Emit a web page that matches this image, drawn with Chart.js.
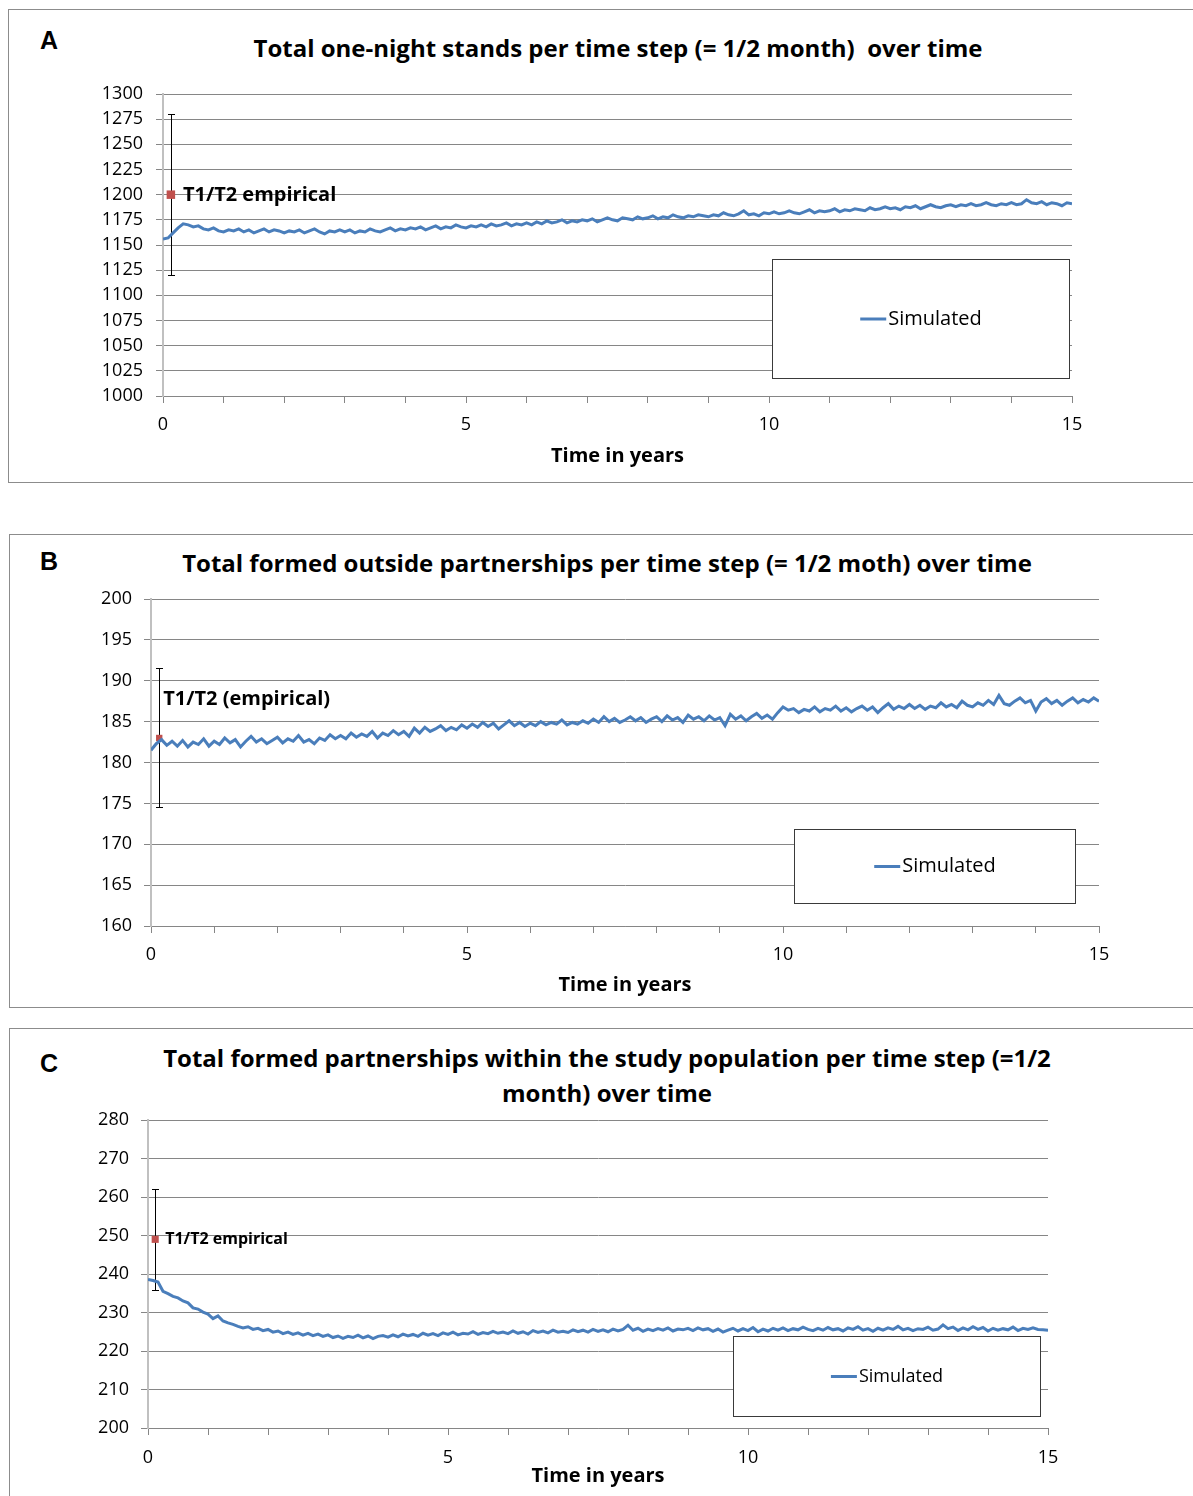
<!DOCTYPE html>
<html>
<head>
  <title>Simulated vs empirical partnerships</title>
  <script src="https://cdn.jsdelivr.net/npm/chart.js"></script>
  <style>
    body { margin: 0; width: 1193px; height: 1496px; overflow: hidden; background: #fff; font-family: "Open Sans", sans-serif; }
    .panel { position: absolute; border: 1px solid #8c8c8c; box-sizing: border-box; }
    .title { position: absolute; transform: translate(-50%, -50%); font: bold 24px "Open Sans", sans-serif; white-space: pre; text-align: center; color: #000; }
    .letter { position: absolute; transform: translate(-50%, -50%); font: bold 25px "Liberation Sans", Arial, sans-serif; }
    canvas { position: absolute; left: 0; }
  </style>
</head>
<body>
  <div class="panel" style="left:8px; top:9px; width:1210px; height:474px"></div>
  <div class="panel" style="left:9px; top:534px; width:1210px; height:474px"></div>
  <div class="panel" style="left:9px; top:1028px; width:1210px; height:500px"></div>

  <div class="letter" style="left:49px; top:40px">A</div>
  <div class="letter" style="left:49px; top:561px">B</div>
  <div class="letter" style="left:49px; top:1063px">C</div>

  <div class="title" style="left:618px; top:47px">Total one-night stands per time step (= 1/2 month)  over time</div>
  <div class="title" style="left:607px; top:562px">Total formed outside partnerships per time step (= 1/2 moth) over time</div>
  <div class="title" style="left:607px; top:1075px; line-height:35px">Total formed partnerships within the study population per time step (=1/2<br>month) over time</div>

  <canvas id="chartA" width="1193" height="490" style="top:0px"></canvas>
  <canvas id="chartB" width="1193" height="510" style="top:500px"></canvas>
  <canvas id="chartC" width="1193" height="486" style="top:1010px"></canvas>

  <script>
    // one value every 1/12 year (2 time steps); one row per year
    const stepYears = 1 / 12;
    const xTickLabels = [0, 5, 10, 15];

    const oneNightStands = [
      1156, 1157, 1162, 1167, 1171, 1170, 1168, 1169, 1166, 1165, 1167, 1164,
      1163, 1165, 1164, 1166, 1163, 1165, 1162, 1164, 1166, 1163, 1165, 1164,
      1162, 1164, 1163, 1165, 1162, 1164, 1166, 1163, 1161, 1164, 1163, 1165,
      1163, 1165, 1162, 1164, 1163, 1166, 1164, 1163, 1165, 1167, 1164, 1166,
      1165, 1167, 1166, 1168, 1165, 1167, 1169, 1166, 1168, 1167, 1170, 1168,
      1167, 1169, 1168, 1170, 1168, 1171, 1169, 1170, 1172, 1169, 1171, 1170,
      1172, 1170, 1173, 1171, 1174, 1172, 1173, 1175, 1172, 1174, 1173, 1175,
      1174, 1176, 1173, 1175, 1177, 1175, 1174, 1177, 1176, 1175, 1178, 1176,
      1177, 1179, 1176, 1178, 1177, 1180, 1178, 1177, 1179, 1178, 1180, 1179,
      1178, 1180, 1179, 1182, 1180, 1179, 1181, 1184, 1180, 1181, 1179, 1182,
      1181, 1183, 1181, 1182, 1184, 1182, 1181, 1183, 1185, 1182, 1184, 1183,
      1184, 1186, 1183, 1185, 1184, 1186, 1185, 1184, 1187, 1185, 1186, 1188,
      1186, 1187, 1185, 1188, 1187, 1189, 1186, 1188, 1190, 1188, 1187, 1189,
      1190, 1188, 1190, 1189, 1191, 1189, 1190, 1192, 1190, 1189, 1191, 1190,
      1192, 1190, 1191, 1195, 1192, 1191, 1193, 1190, 1192, 1191, 1189, 1192,
      1191
    ];
    const outsidePartnerships = [
      181.5, 182.3, 182.8, 182.1, 182.6, 182.0, 182.7, 181.9, 182.5, 182.2, 182.9, 182.0,
      182.6, 182.2, 183.0, 182.4, 182.8, 181.9, 182.6, 183.2, 182.5, 182.9, 182.3, 182.7,
      183.1, 182.4, 182.9, 182.6, 183.3, 182.5, 182.8, 182.3, 183.0, 182.7, 183.4, 182.9,
      183.3, 182.9, 183.6, 183.1, 183.5, 183.2, 183.8, 183.0, 183.6, 183.3, 183.9, 183.4,
      183.8, 183.2, 184.2, 183.6, 184.3, 183.8, 184.1, 184.5, 183.9, 184.3, 184.0, 184.6,
      184.2, 184.7, 184.3, 184.9, 184.4, 184.8, 184.1, 184.6, 185.1, 184.5, 184.9, 184.4,
      184.8, 184.5, 185.0, 184.6, 184.9, 184.7, 185.2, 184.6, 184.9, 184.7, 185.1, 184.8,
      185.3, 184.9, 185.6, 185.0, 185.4, 184.9, 185.2, 185.6, 185.1, 185.5, 184.9, 185.3,
      185.6, 185.0, 185.7, 185.2, 185.5, 184.9, 185.8, 185.3, 185.6, 185.1, 185.7, 185.2,
      185.5, 184.5, 185.9, 185.3, 185.7, 185.1, 185.6, 186.0, 185.4, 185.8, 185.3, 186.1,
      186.8, 186.4, 186.6, 186.1, 186.5, 186.3, 186.8, 186.2, 186.6, 186.4, 186.9, 186.3,
      186.7, 186.2, 186.6, 186.9, 186.4, 186.8, 186.1, 186.7, 187.2, 186.5, 186.9, 186.6,
      187.1, 186.6, 187.0, 186.5, 186.9, 186.7, 187.3, 186.8, 187.1, 186.7, 187.5, 187.0,
      186.8, 187.3, 187.0, 187.6, 187.1, 188.2, 187.2, 187.0, 187.5, 187.9, 187.3, 187.6,
      186.3, 187.4, 187.8, 187.2, 187.6, 187.0, 187.5, 187.9, 187.3, 187.7, 187.4, 187.9,
      187.5
    ];
    const studyPartnerships = [
      238.6, 238.3, 237.9, 235.5, 234.9, 234.2, 233.8, 233.0, 232.5, 231.2, 230.9, 230.1,
      229.6, 228.4, 229.1, 227.8, 227.3, 226.9, 226.4, 226.0, 226.3, 225.6, 225.9, 225.3,
      225.6, 224.9, 225.2, 224.5, 224.9, 224.3, 224.7, 224.1, 224.6, 224.0, 224.4, 223.8,
      224.2, 223.5, 223.9, 223.3, 223.8, 223.5, 224.1, 223.4, 223.9, 223.2, 223.8, 224.0,
      223.6, 224.2, 223.7, 224.4, 223.9, 224.3, 223.8, 224.6, 224.1, 224.5, 224.0, 224.7,
      224.3, 224.9, 224.2, 224.6, 224.4, 225.0, 224.3, 224.8, 224.5, 225.1, 224.6, 224.9,
      224.5, 225.2, 224.6, 225.0, 224.4, 225.3, 224.8, 225.2, 224.7, 225.4, 224.9, 225.1,
      224.8, 225.5, 225.0, 225.4, 224.9, 225.6, 225.1, 225.5, 225.0, 225.7, 225.2, 225.6,
      226.7, 225.4, 225.9, 225.1, 225.7, 225.3, 225.8, 225.4, 226.0, 225.2, 225.7, 225.5,
      225.9, 225.3, 226.0, 225.5, 225.8, 225.1, 225.7, 224.9, 225.4, 225.9, 225.2, 225.8,
      225.3, 226.1, 225.0, 225.7, 225.2, 225.9, 225.4, 226.0, 225.3, 225.8, 225.5, 226.2,
      225.6, 225.3, 225.9, 225.4, 226.1, 225.5, 225.8, 225.2, 226.0, 225.6, 226.3, 225.4,
      225.8, 225.1, 225.9, 225.4, 226.0, 225.6, 226.4, 225.5, 225.9, 225.3, 225.8, 225.6,
      226.2, 225.4, 225.7, 226.8, 225.8, 226.2, 225.3, 226.0, 225.5, 226.3, 225.6, 226.1,
      225.2, 225.9, 225.4, 225.8, 225.5, 226.2, 225.3, 225.9, 225.6, 226.0, 225.6, 225.5,
      225.4
    ];

    // empirical T1/T2 estimates: [time, value, low, high]
    const empiricalA = [0.13, 1200, 1120, 1280];
    const empiricalB = [0.13, 183, 174.6, 191.6];
    const empiricalC = [0.12, 249, 235.8, 262.2];

    const yRangeA = [1000, 1300, 25];
    const yRangeB = [160, 200, 5];
    const yRangeC = [200, 280, 10];

    const BLUE = '#4a7ebb';
    const RED = '#c0504d';
    const GRID = '#868686';
    const FONT = '"Open Sans", sans-serif';

    // error bar, point label and the boxed legend
    const extras = {
      id: 'extras',
      beforeDatasetsDraw(chart, args, o) {
        const { ctx, scales: { x, y } } = chart;
        const px = Math.round(x.getPixelForValue(o.emp[0])) + 0.5;
        const top = Math.round(y.getPixelForValue(o.emp[3])) + 0.5;
        const bot = Math.round(y.getPixelForValue(o.emp[2])) + 0.5;
        ctx.save();
        ctx.strokeStyle = '#000';
        ctx.lineWidth = 1;
        ctx.beginPath();
        ctx.moveTo(px, top); ctx.lineTo(px, bot);
        ctx.moveTo(px - 3.5, top); ctx.lineTo(px + 3.5, top);
        ctx.moveTo(px - 3.5, bot); ctx.lineTo(px + 3.5, bot);
        ctx.stroke();
        ctx.restore();
      },
      afterDatasetsDraw(chart, args, o) {
        const { ctx, chartArea: a, scales: { x, y } } = chart;
        ctx.save();
        // label next to the empirical point
        const px = x.getPixelForValue(o.emp[0]);
        const py = y.getPixelForValue(o.emp[1]);
        ctx.fillStyle = '#000';
        ctx.font = 'bold ' + o.labelSize + 'px ' + FONT;
        ctx.textBaseline = 'middle';
        ctx.textAlign = 'left';
        ctx.fillText(o.label, px + o.labelDx, py + o.labelDy);

        // legend box
        const w = a.right - a.left, h = a.bottom - a.top;
        const l = Math.round(a.left + o.box[0] * w) + 0.5;
        const t = Math.round(a.top + o.box[1] * h) + 0.5;
        const r = Math.round(a.left + o.box[2] * w) + 0.5;
        const b = Math.round(a.top + o.box[3] * h) + 0.5;
        ctx.fillStyle = '#fff';
        ctx.fillRect(l, t, r - l, b - t);
        ctx.strokeStyle = '#3a3a3a';
        ctx.lineWidth = 1;
        ctx.strokeRect(l, t, r - l, b - t);
        const name = chart.data.datasets[0].label;
        ctx.font = o.legendSize + 'px ' + FONT;
        const tw = ctx.measureText(name).width;
        const total = 26 + 2 + tw;
        const sx = (l + r) / 2 - total / 2;
        const cy = (t + b) / 2;
        ctx.strokeStyle = BLUE;
        ctx.lineWidth = 3;
        ctx.beginPath();
        ctx.moveTo(sx, cy); ctx.lineTo(sx + 26, cy);
        ctx.stroke();
        ctx.fillStyle = '#000';
        ctx.fillText(name, sx + 28, cy);
        ctx.restore();
      }
    };

    function makeChart(id, values, emp, yRange, p) {
      const line = values.map((v, i) => ({ x: i * stepYears, y: v }));
      return new Chart(document.getElementById(id), {
        type: 'line',
        data: {
          datasets: [
            { label: 'Simulated', data: line, borderColor: BLUE, borderWidth: 3, pointRadius: 0, tension: 0 },
            { label: 'T1/T2 empirical', data: [{ x: emp[0], y: emp[1] }], showLine: false,
              pointStyle: 'rect', pointRadius: p.marker, backgroundColor: RED, borderWidth: 0 }
          ]
        },
        options: {
          responsive: false,
          animation: false,
          devicePixelRatio: 1,
          layout: { padding: p.padding },
          plugins: {
            legend: { display: false },
            tooltip: { enabled: false },
            extras: { emp, label: p.label, labelDx: p.labelDx, labelDy: p.labelDy,
                      labelSize: p.labelSize, legendSize: p.legendSize, box: p.box }
          },
          scales: {
            x: {
              type: 'linear', min: 0, max: 15,
              afterFit: s => { s.height = p.xHeight; },
              grid: { drawOnChartArea: false, color: GRID, tickLength: 7 },
              border: { color: GRID, width: 1 },
              ticks: {
                stepSize: 1, autoSkip: false, maxRotation: 0, padding: p.xTickPad,
                color: '#000', font: { family: FONT, size: 18 },
                callback: v => (xTickLabels.includes(v) ? String(v) : '')
              },
              title: { display: true, text: 'Time in years', color: '#000',
                       font: { family: FONT, size: 20, weight: 'bold' },
                       padding: { top: 0, bottom: p.titlePad } }
            },
            y: {
              min: yRange[0], max: yRange[1],
              afterFit: s => { s.width = p.yWidth; },
              grid: { color: GRID, lineWidth: 1, tickLength: 7 },
              border: { color: '#c0c0c0', width: 2 },
              ticks: { stepSize: yRange[2], autoSkip: false, padding: p.yTickPad,
                       color: '#000', font: { family: FONT, size: 18 },
                       callback: v => String(v) }
            }
          }
        },
        plugins: [extras]
      });
    }

    makeChart('chartA', oneNightStands, empiricalA, yRangeA, {
      padding: { top: 94, right: 121, bottom: 14, left: 0 }, yWidth: 163, xHeight: 80,
      xTickPad: 11, yTickPad: 13, titlePad: 8, marker: 6,
      label: 'T1/T2 empirical', labelDx: 12, labelDy: 1, labelSize: 20, legendSize: 20,
      box: [0.67, 0.546, 0.9967, 0.94]
    });
    makeChart('chartB', outsidePartnerships, empiricalB, yRangeB, {
      padding: { top: 99, right: 94, bottom: 4, left: 0 }, yWidth: 151, xHeight: 80,
      xTickPad: 11, yTickPad: 12, titlePad: 9, marker: 4.5,
      label: 'T1/T2 (empirical)', labelDx: 4, labelDy: -39, labelSize: 20, legendSize: 20,
      box: [0.678, 0.703, 0.975, 0.93]
    });
    makeChart('chartC', studyPartnerships, empiricalC, yRangeC, {
      padding: { top: 110, right: 145, bottom: 8, left: 0 }, yWidth: 148, xHeight: 60,
      xTickPad: 12, yTickPad: 12, titlePad: 0, marker: 5,
      label: 'T1/T2 empirical', labelDx: 10, labelDy: 0, labelSize: 16, legendSize: 18,
      box: [0.65, 0.7013, 0.991, 0.961]
    });
  </script>
</body>
</html>
